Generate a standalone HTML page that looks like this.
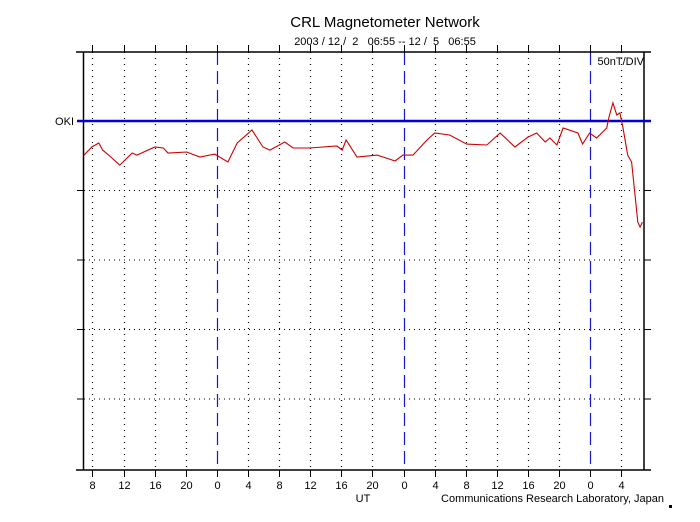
<!DOCTYPE html>
<html><head><meta charset="utf-8"><style>
body{margin:0;background:#fff;}
svg{display:block;font-family:"Liberation Sans",sans-serif;}
</style></head><body>
<svg id="chart" width="700" height="522" viewBox="0 0 700 522">
<rect width="700" height="522" fill="#fff"/>
<text x="385" y="27" font-size="15" text-anchor="middle">CRL Magnetometer Network</text>
<text x="385" y="45" font-size="11" text-anchor="middle" xml:space="preserve">2003 / 12 /  2   06:55 -- 12 /  5   06:55</text>
<text x="644" y="65" font-size="11" text-anchor="end">50nT/DIV</text>
<text x="74" y="125" font-size="11" text-anchor="end">OKI</text>
<text x="363" y="502" font-size="11" text-anchor="middle">UT</text>
<text x="664" y="502" font-size="11" text-anchor="end">Communications Research Laboratory, Japan</text>
<rect x="669" y="505" width="3" height="3" fill="#000"/>
<g id="grid"></g>
<g id="axes"></g>
<g id="series"></g>
</svg>
<script>
const hours=[0,1.0,1.9,2.4,3.3,4.6,6.2,6.8,9.1,10.2,10.8,13.2,14.9,16.8,18.5,19.7,21.6,23.0,23.9,25.8,26.9,29.0,32.5,33.2,33.7,35.1,37.7,40.0,41.0,42.3,44.1,45.1,47.0,49.2,51.8,53.5,55.4,57.1,58.2,59.3,59.9,60.8,61.6,63.5,64.1,65.0,65.9,67.2,67.5,68.0,68.5,68.9,69.3,69.9,70.4,70.8,71.2,71.5,71.8];
const nT=[-24.5,-18.7,-15.8,-20.9,-25.2,-31.7,-23.0,-24.5,-18.7,-19.4,-23.0,-22.3,-25.9,-23.8,-29.5,-15.8,-6.5,-18.7,-20.9,-15.1,-19.4,-19.4,-18.0,-20.9,-13.7,-25.9,-24.5,-28.8,-24.5,-24.5,-13.7,-8.6,-10.1,-16.6,-17.3,-8.6,-18.7,-11.5,-8.6,-15.1,-12.2,-17.3,-5.0,-8.6,-16.6,-8.6,-12.2,-5.0,2.9,13.0,4.3,5.8,-5.0,-24.5,-29.5,-51.1,-72.7,-76.3,-72.7];
const tickHours=[1.083,5.083,9.083,13.083,17.083,21.083,25.083,29.083,33.083,37.083,41.083,45.083,49.083,53.083,57.083,61.083,65.083,69.083];
const tickLabels=["8","12","16","20","0","4","8","12","16","20","0","4","8","12","16","20","0","4"];
const NS="http://www.w3.org/2000/svg";
const L=84,R=644,T=52,B=470,H0=72,BASE=121,PXN=69.5/50;
const x=h=>L+(R-L)*h/H0;
const y=v=>BASE-v*PXN;
function mk(tag,attrs,parent){const e=document.createElementNS(NS,tag);for(const k in attrs)e.setAttribute(k,attrs[k]);document.getElementById(parent).appendChild(e);return e;}
for(let i=1;i<=4;i++){
  const yy=y(-50*i);
  const g=mk('line',{x1:L,x2:R,y1:yy,y2:yy,stroke:'#000','stroke-width':1,'stroke-dasharray':'1,4'},'grid');
  
  
  const t1=mk('line',{x1:L-7,x2:L,y1:yy,y2:yy,stroke:'#000'},'axes');
  
  
  const t2=mk('line',{x1:R,x2:R+7,y1:yy,y2:yy,stroke:'#000'},'axes');
  
  
}
tickHours.forEach((h,i)=>{
  const xx=Math.round(x(h))+0.5;
  const midnight=tickLabels[i]==="0";
  const g=mk('line',{x1:xx,x2:xx,y1:T,y2:B,stroke:midnight?'#1818c8':'#000','stroke-width':1.2,'stroke-dasharray':midnight?'13,6':'1,5'},'grid');
  
  
  const a=mk('line',{x1:xx,x2:xx,y1:T-7,y2:T,stroke:'#000'},'axes');
  
  
  const b=mk('line',{x1:xx,x2:xx,y1:B,y2:B+7,stroke:'#000'},'axes');
  
  
  const t=mk('text',{x:xx,y:489,'font-size':11,'text-anchor':'middle'},'axes');
  t.textContent=tickLabels[i];
  
  
});
const f1=mk('line',{x1:L-0.5,x2:L-0.5,y1:T,y2:B,stroke:'#000','stroke-width':1.5},'axes');


const f2=mk('line',{x1:R,x2:R,y1:T,y2:B,stroke:'#000','stroke-width':1.5},'axes');


const f3=mk('line',{x1:L-8,x2:R+7,y1:T,y2:T,stroke:'#000','stroke-width':1.5},'axes');


const f4=mk('line',{x1:L-8,x2:R+7,y1:B,y2:B,stroke:'#000','stroke-width':1.5},'axes');


const bl=mk('line',{x1:L-7,x2:R+7,y1:y(0),y2:y(0),stroke:'#0000dd','stroke-width':2.5},'series');


const tk=mk('line',{x1:L-7,x2:L,y1:y(0),y2:y(0),stroke:'#000','stroke-width':1},'axes');


const pts=hours.map((h,i)=>x(h).toFixed(1)+','+y(nT[i]).toFixed(1)).join(' ');
const pl=mk('polyline',{points:pts,fill:'none',stroke:'#cc0000','stroke-width':1.1},'series');


</script>
</body></html>
